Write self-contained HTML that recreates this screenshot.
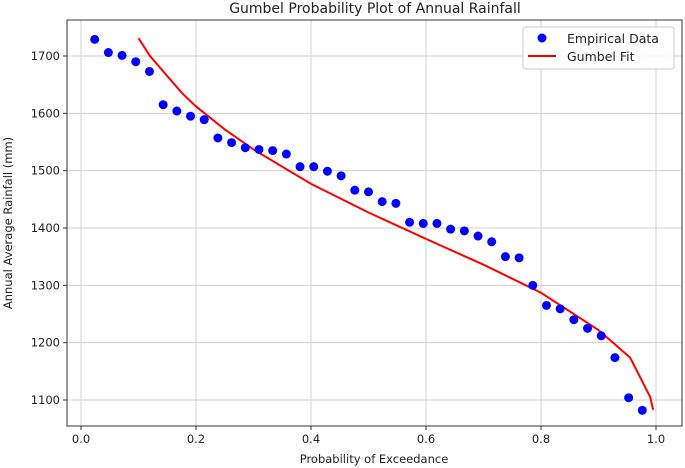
<!DOCTYPE html>
<html><head><meta charset="utf-8"><style>
html,body{margin:0;padding:0;background:#fff;}
svg{display:block;font-family:"DejaVu Sans","Liberation Sans",sans-serif;}
</style></head><body>
<svg id="chart" width="685" height="468" viewBox="0 0 685 468">
<text x="375" y="13" text-anchor="middle" font-size="14" fill="#222">Gumbel Probability Plot of Annual Rainfall</text>
<g id="grid"></g>
<g id="ticks"></g>
<g id="fit"></g>
<g id="pts"></g>
<rect x="67" y="20" width="615" height="406" fill="none" stroke="#333" stroke-width="1"/>
<text x="374" y="463" text-anchor="middle" font-size="11.5" fill="#222">Probability of Exceedance</text>
<text transform="translate(12,223) rotate(-90)" text-anchor="middle" font-size="11.5" fill="#222">Annual Average Rainfall (mm)</text>
<g>
<rect x="523" y="27" width="151" height="42" rx="3" fill="#fff" fill-opacity="0.85" stroke="#ccc"/>
<circle cx="542" cy="38" r="4.5" fill="#0000ff"/>
<text x="567" y="43" font-size="12.5" fill="#222">Empirical Data</text>
<line x1="528" y1="56" x2="556" y2="56" stroke="#ff0000" stroke-width="2"/>
<text x="567" y="61" font-size="12.5" fill="#222">Gumbel Fit</text>
</g>
</svg>
<script>
const empiricalValues=[1729,1706,1701,1690,1673,1615,1604,1595,1589,1557,1549,1540,1537,1535,1529,1507,1507,1499,1491,1466,1463,1446,1443,1410,1408,1408,1398,1395,1386,1376,1350,1348,1300,1265,1259,1240,1225,1212,1174,1104,1082];
const fitProb=[0.1,0.12,0.15,0.175,0.2,0.25,0.3,0.4,0.5,0.6,0.7,0.8,0.9,0.955,0.99,0.995];
const fitValues=[1731,1700,1665,1636,1612,1572,1537,1477,1427,1381,1336,1287,1222,1174,1105,1083];
const xTicks=[0,0.2,0.4,0.6,0.8,1.0];
const xTickLabels=["0.0","0.2","0.4","0.6","0.8","1.0"];
const yTicks=[1100,1200,1300,1400,1500,1600,1700];
const ns="http://www.w3.org/2000/svg";
function xs(p){return 81+p*575;}
function ys(v){return 56+(1700-v)*344/600;}
function mk(tag,attrs,parent){const e=document.createElementNS(ns,tag);for(const k in attrs)e.setAttribute(k,attrs[k]);parent.appendChild(e);return e;}
const grid=document.getElementById('grid'),ticks=document.getElementById('ticks');
xTicks.forEach((t,i)=>{
  const g=mk('line',{x1:xs(t),x2:xs(t),y1:20,y2:426,stroke:'#d0d0d0','stroke-width':1},grid);
  
  
  const tk=mk('line',{x1:xs(t),x2:xs(t),y1:426,y2:430,stroke:'#333'},ticks);
  
  
  const l=mk('text',{x:xs(t),y:443,'text-anchor':'middle','font-size':11.5,fill:'#222'},ticks);
  l.textContent=xTickLabels[i];
  
  
});
yTicks.forEach(t=>{
  const g=mk('line',{x1:67,x2:682,y1:ys(t),y2:ys(t),stroke:'#d0d0d0','stroke-width':1},grid);
  
  
  const tk=mk('line',{x1:63,x2:67,y1:ys(t),y2:ys(t),stroke:'#333'},ticks);
  
  
  const l=mk('text',{x:60,y:ys(t)+4,'text-anchor':'end','font-size':11.5,fill:'#222'},ticks);
  l.textContent=String(t);
  
  
});
const n=empiricalValues.length;
empiricalValues.forEach((v,i)=>{
  const c=mk('circle',{cx:xs((i+1)/(n+1)),cy:ys(v),r:4.5,fill:'#0000ff'},document.getElementById('pts'));
  
  
});
const pl=mk('polyline',{points:fitProb.map((p,i)=>xs(p)+','+ys(fitValues[i])).join(' '),fill:'none',stroke:'#ff0000','stroke-width':2},document.getElementById('fit'));


</script>
</body></html>
